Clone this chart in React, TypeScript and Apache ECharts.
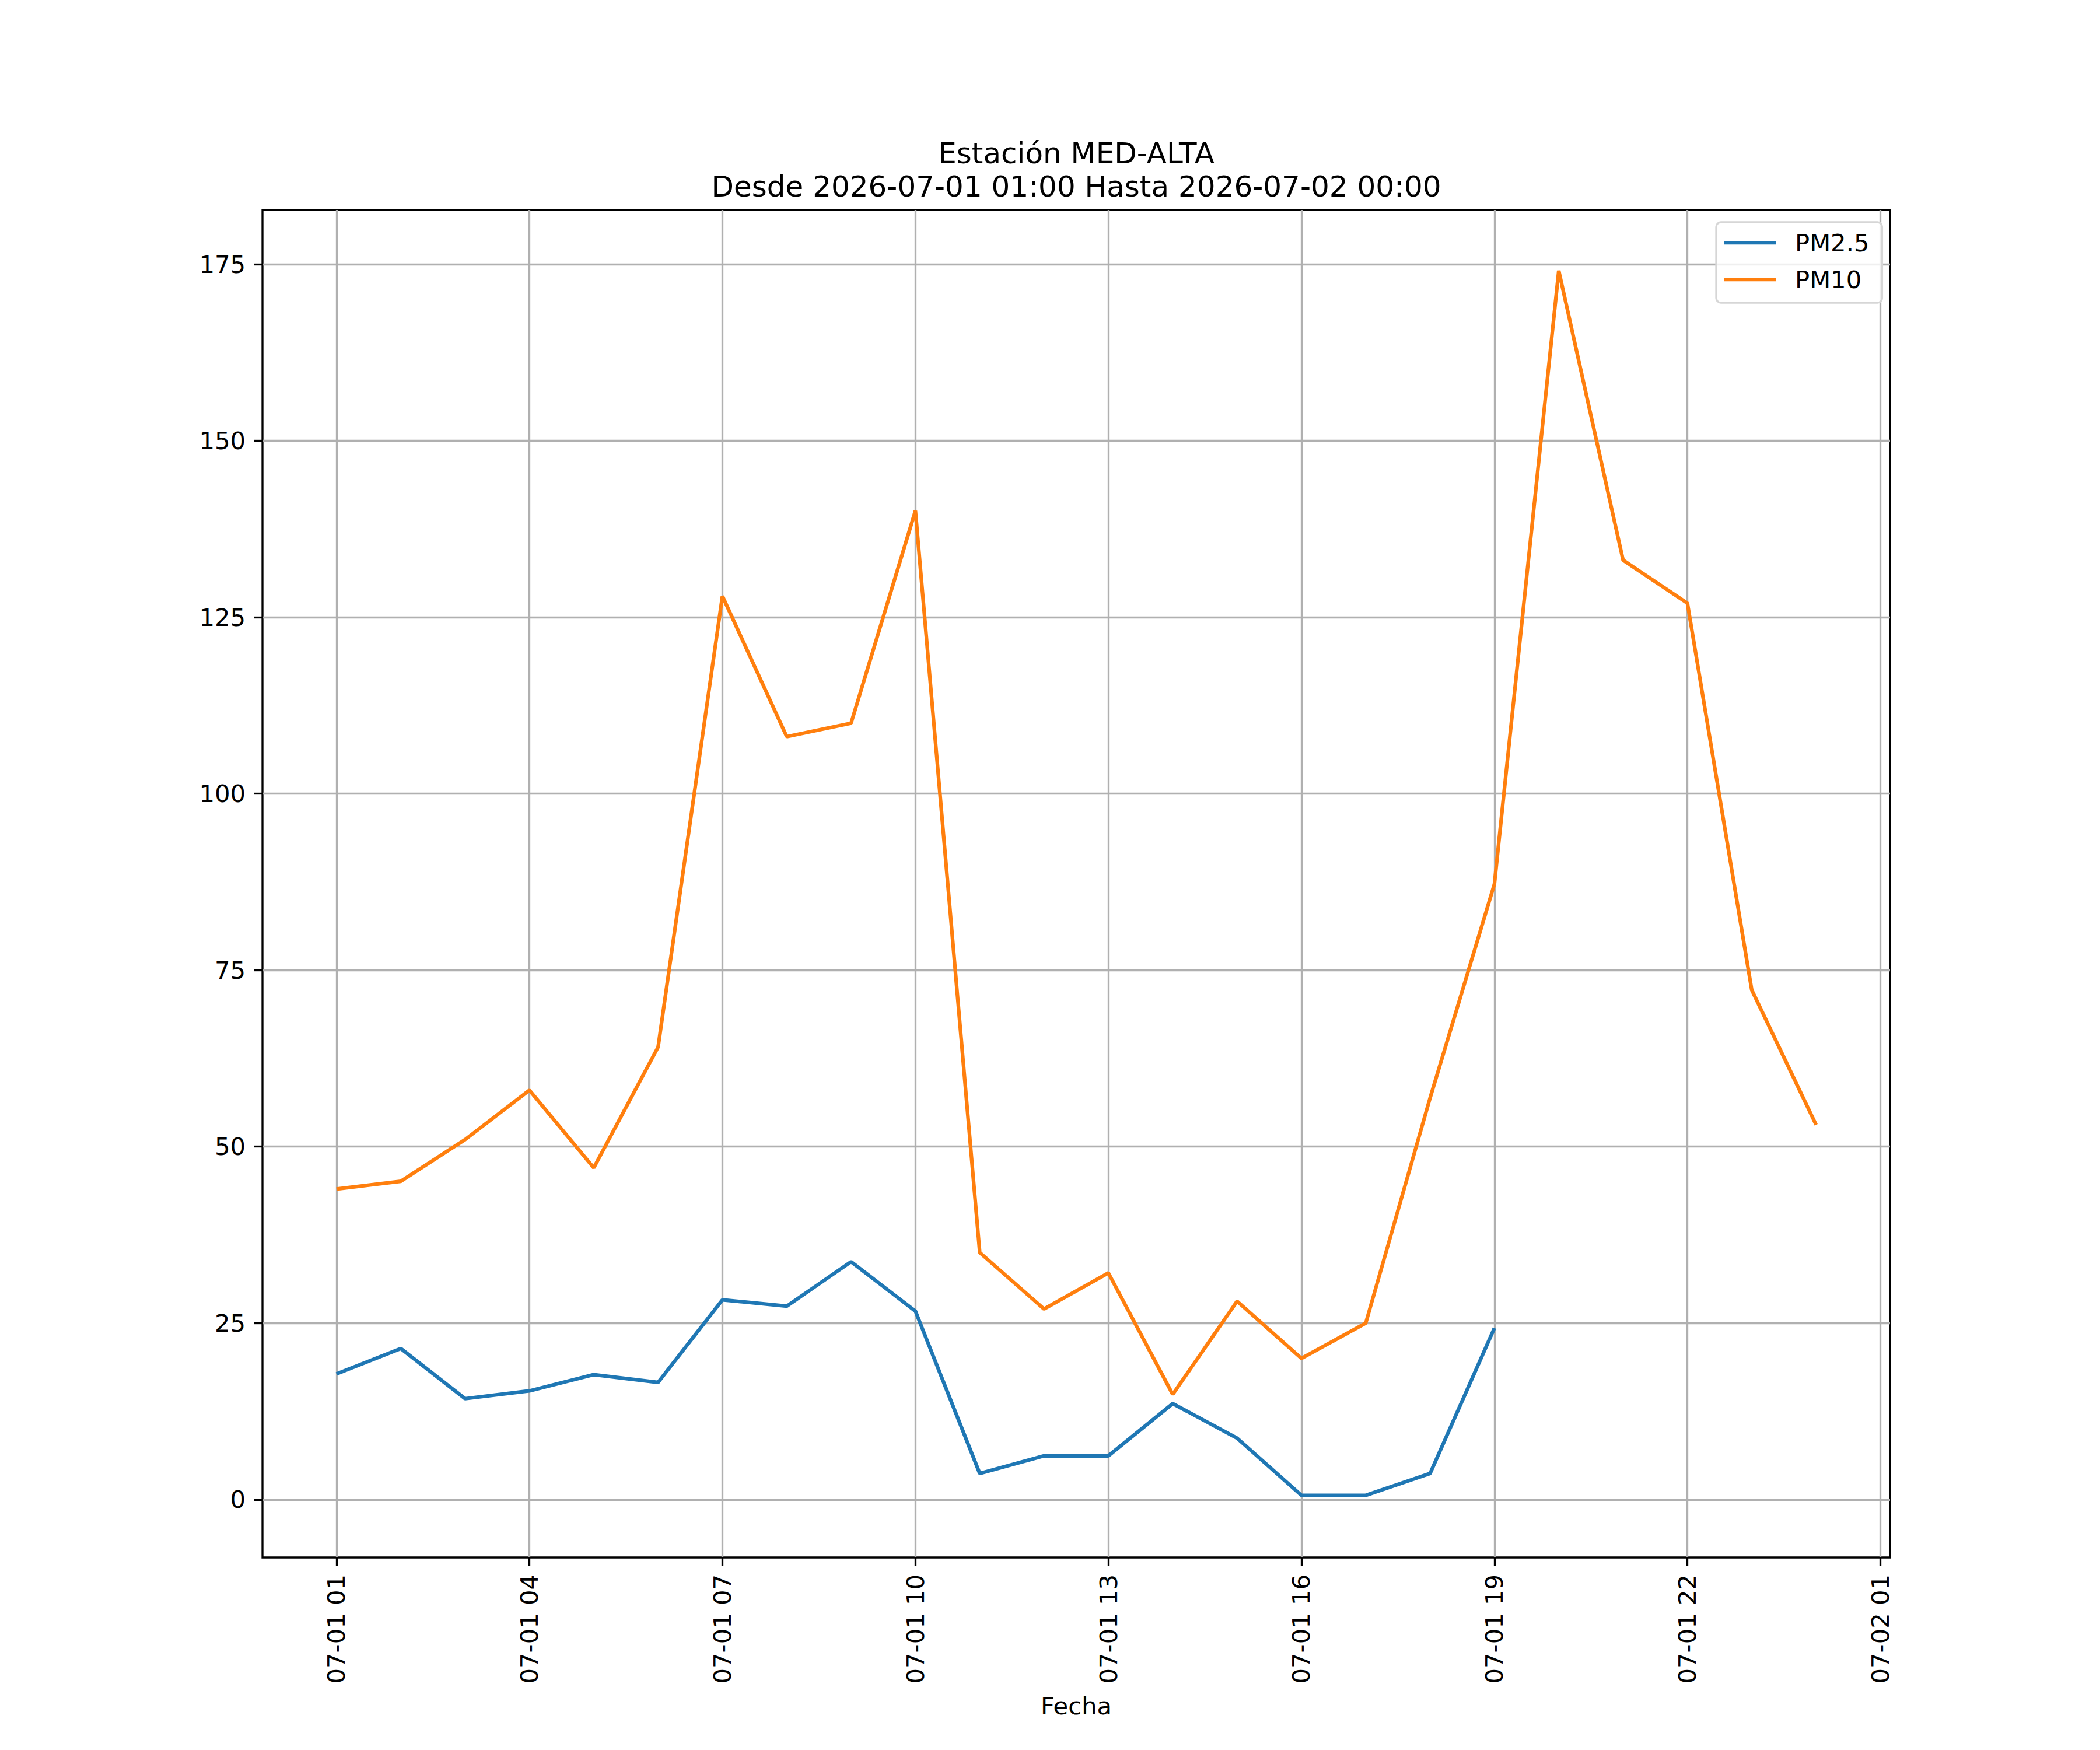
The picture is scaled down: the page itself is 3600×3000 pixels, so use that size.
import React, { useEffect, useRef } from "react";
import * as echarts from "echarts";

// hours after 2026-07-01 01:00
const hours = [0, 1, 2, 3, 4, 5, 6, 7, 8, 9, 10, 11, 12, 13, 14, 15, 16, 17, 18, 19, 20, 21, 22, 23];

const pm25 = [
  17.8, 21.4, 14.3, 15.4, 17.7, 16.6, 28.3, 27.4, 33.7, 26.7, 3.7, 6.2, 6.2, 13.6, 8.7, 0.6, 0.6, 3.7, 24.3,
  null, null, null, null, null,
];
const pm10 = [
  44, 45.1, 51, 58, 47, 64.1, 128, 108.1, 110, 140.1, 35, 27, 32.1, 14.9, 28.1, 20, 25, 56.9, 87.2, 174.1,
  133.1, 127, 72.2, 53.1,
];

const tickHours = [0, 3, 6, 9, 12, 15, 18, 21, 24];
const tickLabels = [
  "07-01 01",
  "07-01 04",
  "07-01 07",
  "07-01 10",
  "07-01 13",
  "07-01 16",
  "07-01 19",
  "07-01 22",
  "07-02 01",
];
const yTicks = [0, 25, 50, 75, 100, 125, 150, 175];

const FONT = "DejaVu Sans";

const App = () => {
  const chartRef = useRef<HTMLDivElement>(null);

  useEffect(() => {
    document.body.style.margin = "0";
    if (!chartRef.current) return;
    const chart = echarts.init(chartRef.current, null, { renderer: "svg" });

    const option = {
      animation: false,
      backgroundColor: "#ffffff",
      textStyle: { fontFamily: FONT, color: "#000" },
      title: {
        text: "Estación MED-ALTA\nDesde 2026-07-01 01:00 Hasta 2026-07-02 00:00",
        left: 1845,
        top: 234,
        padding: 0,
        textAlign: "center",
        textStyle: {
          fontFamily: FONT,
          fontSize: 50,
          fontWeight: "normal",
          color: "#000",
          lineHeight: 57,
        },
      },
      legend: {
        orient: "vertical",
        left: 2942,
        top: 381,
        padding: [14, 22, 19, 14],
        itemWidth: 89,
        itemHeight: 6.25,
        itemGap: 21,
        icon: "rect",
        backgroundColor: "rgba(255,255,255,0.8)",
        borderColor: "#d6d6d6",
        borderWidth: 3.33,
        borderRadius: 8,
        textStyle: {
          fontFamily: FONT,
          fontSize: 41.7,
          color: "#000",
          lineHeight: 42,
          padding: [0, 0, 0, 27],
        },
        data: ["PM2.5", "PM10"],
      },
      grid: {
        left: 450,
        right: 360,
        top: 360,
        bottom: 330,
        show: true,
        borderColor: "#000",
        borderWidth: 3.33,
        backgroundColor: "transparent",
      },
      xAxis: {
        type: "value",
        min: -1.15,
        max: 24.15,
        name: "Fecha",
        nameLocation: "middle",
        nameGap: 233,
        nameTextStyle: { fontFamily: FONT, fontSize: 41.7, color: "#000" },
        axisLine: { show: false, onZero: false },
        axisTick: {
          show: true,
          customValues: tickHours,
          length: 14.6,
          lineStyle: { color: "#000", width: 3.33 },
        },
        axisLabel: {
          customValues: tickHours,
          rotate: 90,
          margin: 29,
          fontFamily: FONT,
          fontSize: 41.7,
          color: "#000",
          formatter: (v: number) => tickLabels[tickHours.indexOf(v)] ?? "",
        },
        splitLine: { show: true, lineStyle: { color: "#b0b0b0", width: 3.33 } },
      },
      yAxis: {
        type: "value",
        min: -8.2,
        max: 182.7,
        axisLine: { show: false, onZero: false },
        axisTick: {
          show: true,
          customValues: yTicks,
          length: 14.6,
          lineStyle: { color: "#000", width: 3.33 },
        },
        axisLabel: {
          customValues: yTicks,
          margin: 29,
          fontFamily: FONT,
          fontSize: 41.7,
          color: "#000",
        },
        splitLine: { show: true, lineStyle: { color: "#b0b0b0", width: 3.33 } },
      },
      series: [
        {
          name: "PM2.5",
          type: "line",
          data: hours.map((h, i) => [h, pm25[i]]),
          symbol: "none",
          connectNulls: false,
          color: "#1f77b4",
          lineStyle: { color: "#1f77b4", width: 6.25 },
          z: 3,
        },
        {
          name: "PM10",
          type: "line",
          data: hours.map((h, i) => [h, pm10[i]]),
          symbol: "none",
          color: "#ff7f0e",
          lineStyle: { color: "#ff7f0e", width: 6.25 },
          z: 3,
        },
      ],
    };

    chart.setOption(option);
    return () => {
      chart.dispose();
    };
  }, []);

  return <div ref={chartRef} style={{ width: "3600px", height: "3000px" }} />;
};

export default App;
